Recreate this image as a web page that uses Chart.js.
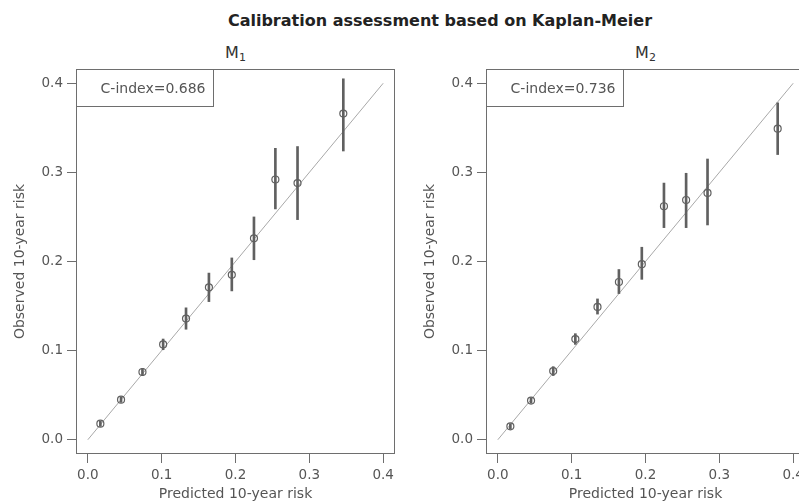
<!DOCTYPE html>
<html>
<head>
<meta charset="utf-8">
<script src="https://cdn.jsdelivr.net/npm/chart.js@4/dist/chart.umd.min.js"></script>
<style>
  html, body { margin: 0; padding: 0; background: #fff; overflow: hidden; width: 799px; height: 504px; }
  #wrap { position: relative; width: 880px; height: 504px; }
  canvas { position: absolute; top: 0; }
  .t { position: absolute; font-family: "DejaVu Sans", sans-serif; text-align: center; white-space: nowrap; }
  #main { left: 0; width: 880px; top: 13px; font-size: 16px; line-height: 16px; font-weight: bold; color: #222; }
  .sub { top: 45px; font-size: 16px; line-height: 16px; color: #333; }
  .sub sub { font-size: 11px; vertical-align: -3px; line-height: 0; }
</style>
</head>
<body>
<div id="wrap">
  <div id="main" class="t">Calibration assessment based on Kaplan-Meier</div>
  <div class="t sub" style="left:76px;width:319px;">M<sub>1</sub></div>
  <div class="t sub" style="left:486px;width:319px;">M<sub>2</sub></div>
  <canvas id="c1" width="410" height="504" style="left:0px"></canvas>
  <canvas id="c2" width="410" height="504" style="left:410px"></canvas>
</div>
<script>
// ---- data ----
const tickVals = [0.0, 0.1, 0.2, 0.3, 0.4];
const diagLine = [0, 0.4];
const cIndexLabels = ["C-index=0.686", "C-index=0.736"];

// Model M1
const pred1 = [0.017, 0.045, 0.074, 0.102, 0.133, 0.164, 0.195, 0.225, 0.254, 0.284, 0.346];
const obs1  = [0.018, 0.045, 0.076, 0.107, 0.136, 0.171, 0.185, 0.226, 0.292, 0.288, 0.366];
const lo1   = [0.015, 0.042, 0.072, 0.101, 0.124, 0.155, 0.167, 0.202, 0.259, 0.247, 0.324];
const hi1   = [0.021, 0.048, 0.080, 0.113, 0.148, 0.187, 0.204, 0.250, 0.327, 0.329, 0.405];

// Model M2
const pred2 = [0.017, 0.045, 0.075, 0.105, 0.135, 0.164, 0.195, 0.225, 0.255, 0.284, 0.379];
const obs2  = [0.015, 0.044, 0.077, 0.113, 0.149, 0.177, 0.197, 0.262, 0.269, 0.277, 0.349];
const lo2   = [0.012, 0.041, 0.072, 0.107, 0.141, 0.164, 0.180, 0.238, 0.238, 0.241, 0.320];
const hi2   = [0.018, 0.047, 0.082, 0.119, 0.158, 0.191, 0.216, 0.288, 0.299, 0.315, 0.378];

const FONT = "DejaVu Sans";
Chart.defaults.font.family = FONT;

const boxPlugin = {
  id: 'boxPlugin',
  afterDatasetsDraw(chart, args, opts) {
    const {ctx, chartArea: a} = chart;
    ctx.save();
    ctx.strokeStyle = '#6e6e6e';
    ctx.lineWidth = 1;
    const L = Math.round(a.left) + 0.5, T = Math.round(a.top) + 0.5;
    const R = Math.round(a.right) - 0.5, B = Math.round(a.bottom) - 0.5;
    ctx.strokeRect(L, T, R - L, B - T);
    // legend box with C-index
    const w = 137, h = 37;
    ctx.fillStyle = '#fff';
    ctx.fillRect(L, T, w, h);
    ctx.strokeRect(L, T, w, h);
    ctx.fillStyle = '#555';
    ctx.font = '14px "' + FONT + '"';
    ctx.textAlign = 'right';
    ctx.textBaseline = 'middle';
    ctx.fillText(opts.text, L + w - 8, T + h / 2 + 1);
    ctx.restore();
  }
};

function makeChart(id, pred, obs, lo, hi, label) {
  const tickFont = {family: FONT, size: 13.5};
  const titleFont = {family: FONT, size: 14};
  return new Chart(document.getElementById(id), {
    type: 'scatter',
    data: {
      datasets: [
        {
          type: 'line',
          data: diagLine.map(v => ({x: v, y: v})),
          borderColor: '#a8a8a8',
          borderWidth: 1,
          pointRadius: 0,
          fill: false,
          order: 3
        },
        {
          type: 'bar',
          data: pred.map((x, i) => ({x: x, y: [lo[i], hi[i]]})),
          backgroundColor: '#606060',
          borderWidth: 0,
          barThickness: 2,
          grouped: false,
          order: 2
        },
        {
          type: 'scatter',
          data: pred.map((x, i) => ({x: x, y: obs[i]})),
          pointStyle: 'circle',
          pointRadius: 3.5,
          borderColor: '#606060',
          backgroundColor: 'rgba(255,255,255,0)',
          borderWidth: 1.2,
          order: 1
        }
      ]
    },
    options: {
      responsive: false,
      devicePixelRatio: 1,
      animation: false,
      layout: {padding: {top: 69, right: 15, left: 0, bottom: 0}},
      plugins: {
        legend: {display: false},
        tooltip: {enabled: false},
        boxPlugin: {text: label}
      },
      scales: {
        x: {
          type: 'linear',
          min: -0.016,
          max: 0.416,
          offset: false,
          afterBuildTicks: s => { s.ticks = tickVals.map(v => ({value: v})); },
          afterFit: s => { s.height = 50; },
          grid: {display: true, drawOnChartArea: false, drawTicks: true, tickLength: 9, tickColor: '#6e6e6e', offset: false},
          border: {display: false},
          ticks: {callback: v => Number(v).toFixed(1), color: '#555', font: tickFont, padding: 4, maxRotation: 0, autoSkip: false},
          title: {display: true, text: 'Predicted 10-year risk', color: '#555', font: titleFont, padding: {top: 0, bottom: 1}}
        },
        y: {
          type: 'linear',
          min: -0.016,
          max: 0.416,
          offset: false,
          afterBuildTicks: s => { s.ticks = tickVals.map(v => ({value: v})); },
          afterFit: s => { s.width = 76; },
          grid: {display: true, drawOnChartArea: false, drawTicks: true, tickLength: 9, tickColor: '#6e6e6e', offset: false},
          border: {display: false},
          ticks: {callback: v => Number(v).toFixed(1), color: '#555', font: tickFont, padding: 4, autoSkip: false},
          title: {display: true, text: 'Observed 10-year risk', color: '#555', font: titleFont, padding: {top: 12, bottom: 0}}
        }
      }
    },
    plugins: [boxPlugin]
  });
}

makeChart('c1', pred1, obs1, lo1, hi1, cIndexLabels[0]);
makeChart('c2', pred2, obs2, lo2, hi2, cIndexLabels[1]);
</script>
</body>
</html>
